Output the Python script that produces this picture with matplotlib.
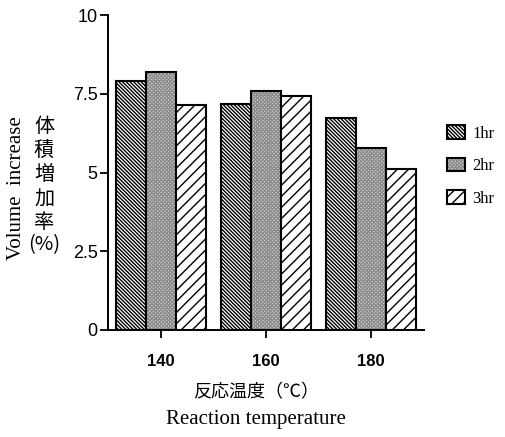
import numpy as np
import matplotlib
matplotlib.use("Agg")
import matplotlib.pyplot as plt

# ---- data ----
temperatures = ["140", "160", "180"]
series_labels = ["1hr", "2hr", "3hr"]
vol_1hr = [7.9, 7.16, 6.72]
vol_2hr = [8.2, 7.6, 5.79]
vol_3hr = [7.14, 7.44, 5.11]
yticks = [0, 2.5, 5, 7.5, 10]
ytick_labels = ["0", "2.5", "5", "7.5", "10"]

W, H = 505, 437
plt.rcParams['hatch.linewidth'] = 1.0
fig = plt.figure(figsize=(W / 100, H / 100), dpi=100)
fig.patch.set_facecolor("white")

def fx(x):
    return x / W

def fy(y):
    return 1 - y / H

ax = fig.add_axes([fx(108), fy(330), (424 - 108) / W, (330 - 15) / H])

x = np.arange(len(temperatures))
bw = 30 / 105
hatches = ['\\' * 9, 'x' * 9, '///']
hatch_colors = ["black", "#8c8c8c", "black"]
faces = ["white", "#dcdcdc", "white"]
series = [vol_1hr, vol_2hr, vol_3hr]
handles = []
for i, (vals, hat, hc, fc) in enumerate(zip(series, hatches, hatch_colors, faces)):
    pos = x + (i - 1) * bw
    fill = ax.bar(pos, vals, width=bw, facecolor=fc, edgecolor=hc,
                  linewidth=0, hatch=hat)
    outline = ax.bar(pos, vals, width=bw, facecolor="none",
                     edgecolor="black", linewidth=1.5)
    handles.append((fill[0], outline[0]))

ax.set_xlim(-0.505, 2.505)
ax.set_ylim(0, 10)
ax.set_yticks(yticks)
ax.set_yticklabels(ytick_labels, fontfamily="Liberation Sans", fontsize=13)
ax.set_xticks(x)
ax.set_xticklabels(temperatures, fontfamily="Liberation Sans", fontsize=12,
                   fontweight="bold")
ax.tick_params(axis='y', direction='out', length=5.5, width=1.3, pad=2)
ax.tick_params(axis='x', direction='out', length=5.5, width=1.3, pad=12)
for s in ["top", "right"]:
    ax.spines[s].set_visible(False)
for s in ["left", "bottom"]:
    ax.spines[s].set_linewidth(1.4)

# x labels
fig.text(fx(256), fy(392), "反応温度（℃）", ha="center", va="center",
         fontsize=13, family=["Noto Sans CJK JP", "DejaVu Sans"])
fig.text(fx(256), fy(424), "Reaction temperature", ha="center", va="baseline",
         fontsize=15, family="Liberation Serif")

# y labels
fig.text(fx(17), fy(188), "Volume  increase", ha="center", va="center",
         rotation=90, fontsize=15, family="Liberation Serif")
kanji = ["体", "積", "増", "加", "率", "(%)"]
kanji_y = [127, 151, 175, 199, 222, 245]
for ch, yy in zip(kanji, kanji_y):
    fig.text(fx(44), fy(yy), ch, ha="center", va="center", fontsize=14.5,
             family=["Noto Sans CJK JP", "DejaVu Sans"])

leg = ax.legend(handles, series_labels, loc="upper left",
                bbox_to_anchor=(fx(447), fy(125)), bbox_transform=fig.transFigure,
                frameon=False, handlelength=1.05, handleheight=0.9,
                labelspacing=0.95, handletextpad=0.45, borderpad=0,
                borderaxespad=0,
                prop={"family": "Liberation Serif", "size": 12})

fig.savefig("out.png", dpi=100, facecolor="white")
